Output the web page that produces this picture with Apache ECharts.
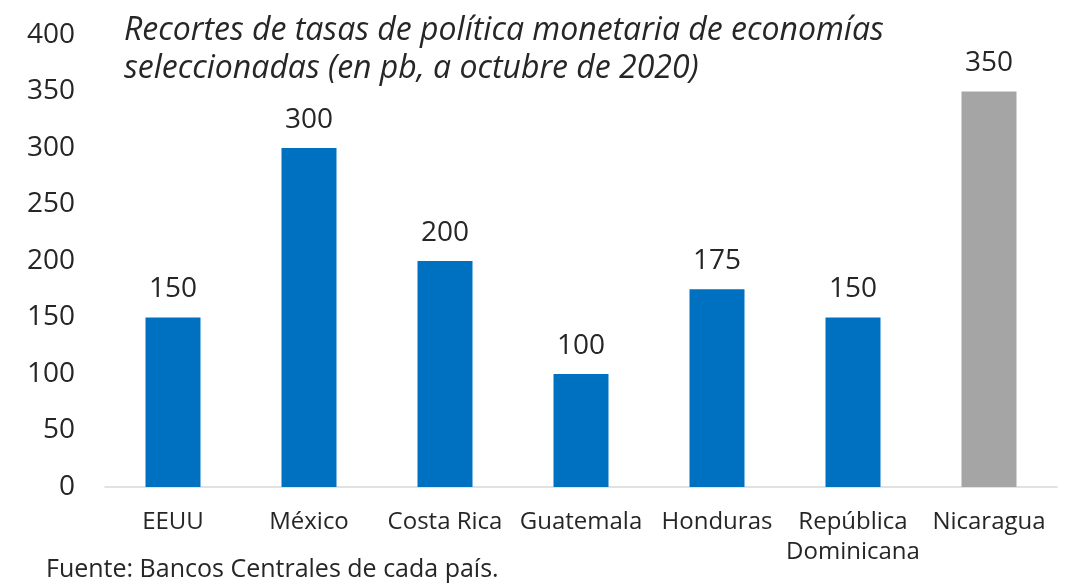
<!DOCTYPE html>
<html><head><meta charset="utf-8">
<script src="https://cdn.jsdelivr.net/npm/echarts@6/dist/echarts.min.js"></script>
<style>html,body{margin:0;padding:0;background:#fff}#c{width:1066px;height:586px}</style>
</head><body><div id="c"></div>
<script>
const categories = ['EEUU','México','Costa Rica','Guatemala','Honduras','República\nDominicana','Nicaragua'];
const values = [150,300,200,100,175,150,350];
const barColors = ['#0070C0','#0070C0','#0070C0','#0070C0','#0070C0','#0070C0','#A5A5A5'];
const yTicks = {min:0,max:400,interval:50};
const titleText = 'Recortes de tasas de política monetaria de economías\nseleccionadas (en pb, a octubre de 2020)';
const sourceText = 'Fuente: Bancos Centrales de cada país.';
const FONT = '"Open Sans", Lato, sans-serif';
const chart = echarts.init(document.getElementById('c'));
chart.setOption({
  animation:false,
  title:{text:titleText,left:119,top:7,textStyle:{fontFamily:FONT,fontStyle:'italic',fontWeight:'normal',fontSize:32,lineHeight:38,color:'#262626'}},
  graphic:[{type:'text',left:46,top:557,style:{text:sourceText,font:'25px '+FONT,fill:'#262626'}}],
  grid:{left:105,right:9,top:35,bottom:99,containLabel:false},
  xAxis:{type:'category',data:categories,axisLine:{lineStyle:{color:'#D9D9D9',width:1.5}},axisTick:{show:false},
    axisLabel:{fontFamily:FONT,fontSize:24,color:'#262626',margin:20,interval:0,lineHeight:30,verticalAlign:'top'}},
  yAxis:{type:'value',min:yTicks.min,max:yTicks.max,interval:yTicks.interval,splitLine:{show:false},axisLine:{show:false},axisTick:{show:false},
    axisLabel:{fontFamily:FONT,fontSize:28,color:'#262626',margin:30}},
  series:[{type:'bar',data:values.map((v,i)=>({value:v,itemStyle:{color:barColors[i]}})),barWidth:55,
    label:{show:true,position:'top',distance:14,fontFamily:FONT,fontSize:28,color:'#262626'}}]
});
</script></body></html>
